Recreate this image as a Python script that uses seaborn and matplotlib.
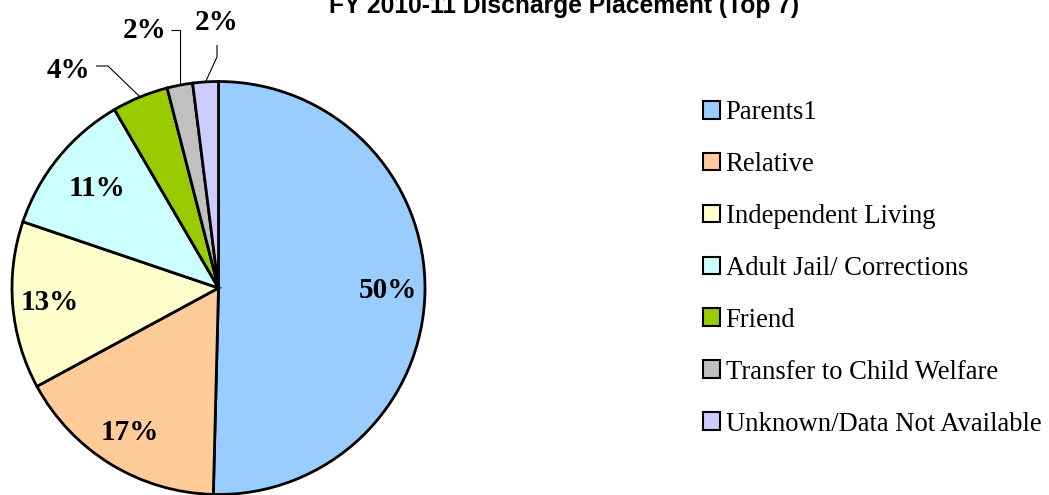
import matplotlib
matplotlib.use("Agg")
import matplotlib.pyplot as plt
import seaborn as sns
import numpy as np
from matplotlib.patches import Patch

# Discharge placement shares (percent of discharges)
categories = [
    "Parents1",
    "Relative",
    "Independent Living",
    "Adult Jail/ Corrections",
    "Friend",
    "Transfer to Child Welfare",
    "Unknown/Data Not Available",
]
shares = [50.4, 16.7, 13.1, 11.4, 4.4, 2.0, 2.0]
colors = ["#99CCFF", "#FFCC99", "#FFFFCC", "#CCFFFF", "#99CC00", "#C0C0C0", "#CCCCFF"]
title = "FY 2010-11 Discharge Placement (Top 7)"

sns.set_theme(style="white")
plt.rcParams["font.family"] = ["Liberation Serif", "DejaVu Serif"]
plt.rcParams["text.color"] = "black"

W, H = 1049, 495
fig = plt.figure(figsize=(W / 100, H / 100), dpi=100)
ax = fig.add_axes([0, 0, 1, 1])

# work in pixel-like units; y measured from the bottom
cx, cy, R = 218.5, H - 288, 206.5

wedges, _ = ax.pie(
    shares, colors=colors, startangle=90, counterclock=False,
    center=(cx, cy), radius=R,
    wedgeprops=dict(edgecolor="black", linewidth=2.0),
)
ax.set_xlim(0, W)
ax.set_ylim(0, H)
ax.set_aspect("equal")
ax.axis("off")

label_font = dict(fontsize=21, fontweight="bold", color="black",
                  family=["Liberation Serif", "DejaVu Serif"])


def on_circle(angle_deg, frac):
    a = np.deg2rad(angle_deg)
    return cx + frac * R * np.cos(a), cy + frac * R * np.sin(a)


# labels inside the larger slices
inside_dist = [0.82, 0.82, 0.82, 0.76]
for w, v, d in zip(wedges[:4], shares[:4], inside_dist):
    mid = (w.theta1 + w.theta2) / 2
    x, y = on_circle(mid, d)
    ax.text(x, y, f"{round(v)}%", ha="center", va="center", **label_font)

# labels outside the small slices, with elbow leader lines
outside_text = [(68, 70), (145, 30), (217, 22)]
for w, v, (tx, ty), kind in zip(wedges[4:], shares[4:], outside_text, ["h", "h", "v"]):
    mid = (w.theta1 + w.theta2) / 2
    ex, ey = on_circle(mid, 1.0)
    ax.text(tx, H - ty, f"{round(v)}%", ha="center", va="center", **label_font)
    if kind == "h":
        if v >= 3:
            sx = tx + 28
            pts = [(sx, H - ty + 4), (sx + 12, H - ty + 4), (ex, ey)]
        else:
            sx = tx + 26
            pts = [(sx, H - ty), (ex, H - ty), (ex, ey)]
    else:
        pts = [(tx, H - ty - 23), (tx, H - ty - 35), (ex, ey)]
    xs, ys = zip(*pts)
    ax.plot(xs, ys, color="black", linewidth=0.8, solid_capstyle="butt")

ax.text(564, H - 13, title, ha="center", va="baseline", fontsize=17.7,
        fontweight="bold", color="black", family="Liberation Sans")

handles = [Patch(facecolor=c, edgecolor="black", linewidth=1.5) for c in colors]
ax.legend(
    handles, categories, loc="upper left",
    bbox_to_anchor=(703 / W, 1 - 100 / H), bbox_transform=fig.transFigure,
    frameon=False, fontsize=19.2, handlelength=0.65, handleheight=0.65,
    handletextpad=0.2, labelspacing=1.01, borderpad=0, borderaxespad=0,
    labelcolor="black",
)

fig.savefig("out.png", dpi=100)
